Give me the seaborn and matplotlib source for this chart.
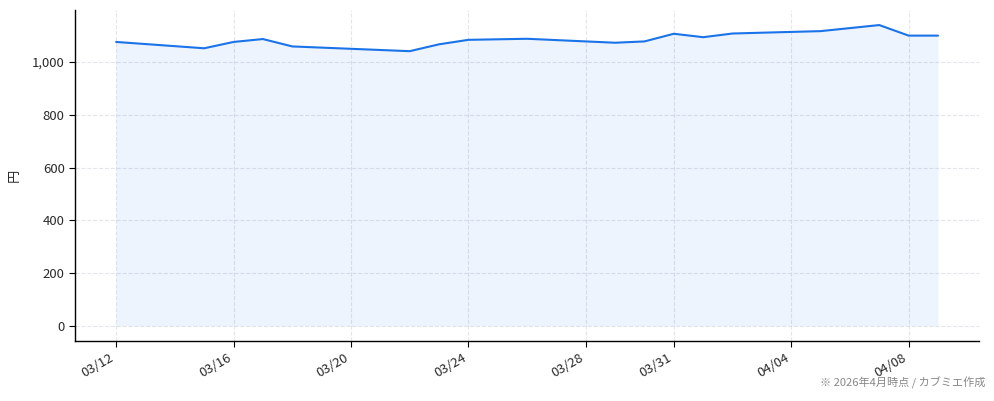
"""株価推移チャート (03/12 - 04/09) を seaborn で再現."""
import matplotlib

matplotlib.use("Agg")
import matplotlib.dates as mdates
import matplotlib.pyplot as plt
import pandas as pd
import seaborn as sns

# 終値 (円) - チャートから読み取り
DATES = [
    "2026-03-12", "2026-03-15", "2026-03-16", "2026-03-17", "2026-03-18",
    "2026-03-22", "2026-03-23", "2026-03-24", "2026-03-26", "2026-03-29",
    "2026-03-30", "2026-03-31", "2026-04-01", "2026-04-02", "2026-04-05",
    "2026-04-07", "2026-04-08", "2026-04-09",
]
PRICES = [
    1076, 1052, 1076, 1087, 1059,
    1041, 1067, 1084, 1088, 1073,
    1078, 1107, 1094, 1108, 1117,
    1140, 1100, 1100,
]
TICK_DATES = [
    "2026-03-12", "2026-03-16", "2026-03-20", "2026-03-24",
    "2026-03-28", "2026-03-31", "2026-04-04", "2026-04-08",
]
Y_LABEL = "円"
NOTE = "※ 2026年4月時点 / カブミエ作成"

LINE_COLOR = "#1a73e8"

sns.set_theme(style="white")
plt.rcParams["font.family"] = ["Noto Sans CJK JP", "DejaVu Sans"]

df = pd.DataFrame({"date": pd.to_datetime(DATES), "price": PRICES})

fig, ax = plt.subplots(figsize=(9.94, 4.01), dpi=100)
fig.subplots_adjust(left=0.0755, right=0.985, top=0.975, bottom=0.15)

sns.lineplot(data=df, x="date", y="price", ax=ax, color=LINE_COLOR, linewidth=1.5)
ax.fill_between(df["date"], df["price"], 0, color=LINE_COLOR, alpha=0.08, linewidth=0)

# 薄い破線グリッド
ax.grid(True, linestyle="--", color="#cfd3dc", alpha=0.55, linewidth=0.8)
ax.set_axisbelow(True)
for side in ("top", "right"):
    ax.spines[side].set_visible(False)
for side in ("left", "bottom"):
    ax.spines[side].set_color("black")
    ax.spines[side].set_linewidth(1.0)

ax.tick_params(axis="both", which="major", length=4, width=0.8, color="black",
               labelsize=9.5, labelcolor="#2a2a2a", bottom=True, left=True)
ax.yaxis.set_major_formatter(matplotlib.ticker.StrMethodFormatter("{x:,.0f}"))
ax.set_xticks(pd.to_datetime(TICK_DATES))
ax.xaxis.set_major_formatter(mdates.DateFormatter("%m/%d"))
for lbl in ax.get_xticklabels():
    lbl.set_rotation(30)
    lbl.set_ha("right")

ax.set_xlabel("")
ax.set_ylabel(Y_LABEL, fontsize=9.5, color="#2a2a2a", labelpad=8)

fig.text(0.991, 0.030, NOTE, ha="right", va="bottom", fontsize=8, color="#888888")

fig.savefig("out.png", dpi=100)
plt.close(fig)
